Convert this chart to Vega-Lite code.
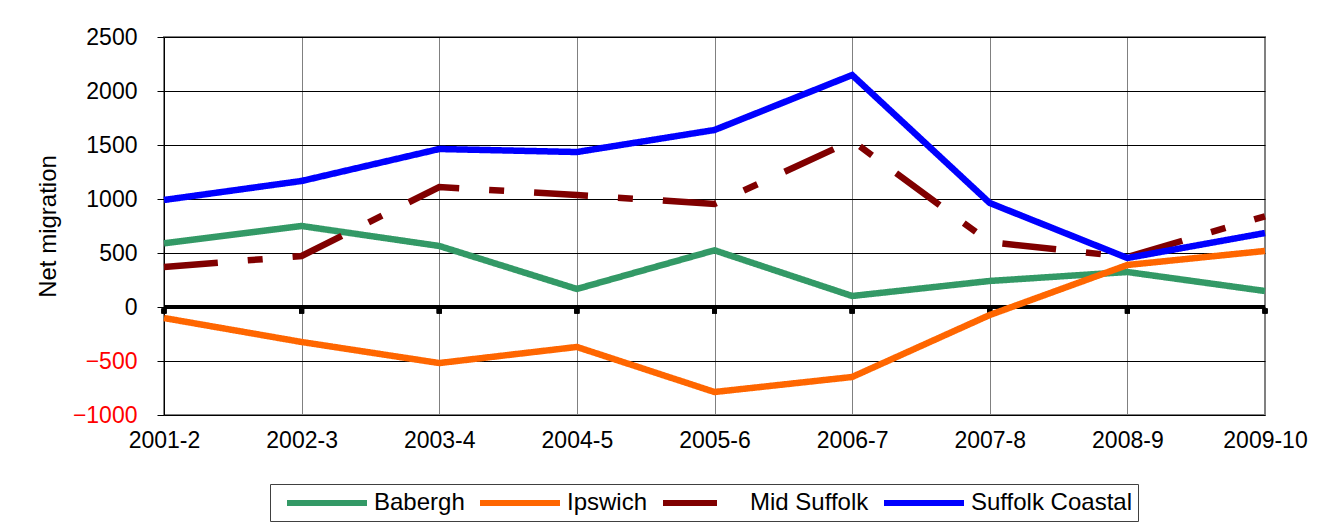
{
  "$schema": "https://vega.github.io/schema/vega-lite/v6.json",
  "width": 1101,
  "height": 378,
  "autosize": {"type": "none"},
  "padding": {"left": 164, "top": 37, "right": 57, "bottom": 111},
  "background": "white",
  "config": {"font": "Liberation Sans", "view": {"stroke": "#808080", "strokeWidth": 2}},
  "data": {"values": [
    {"period": "2001-2", "district": "Babergh", "net": 590},
    {"period": "2002-3", "district": "Babergh", "net": 750},
    {"period": "2003-4", "district": "Babergh", "net": 565},
    {"period": "2004-5", "district": "Babergh", "net": 167},
    {"period": "2005-6", "district": "Babergh", "net": 525},
    {"period": "2006-7", "district": "Babergh", "net": 102},
    {"period": "2007-8", "district": "Babergh", "net": 241},
    {"period": "2008-9", "district": "Babergh", "net": 324},
    {"period": "2009-10", "district": "Babergh", "net": 148},
    {"period": "2001-2", "district": "Ipswich", "net": -102},
    {"period": "2002-3", "district": "Ipswich", "net": -324},
    {"period": "2003-4", "district": "Ipswich", "net": -519},
    {"period": "2004-5", "district": "Ipswich", "net": -370},
    {"period": "2005-6", "district": "Ipswich", "net": -787},
    {"period": "2006-7", "district": "Ipswich", "net": -648},
    {"period": "2007-8", "district": "Ipswich", "net": -74},
    {"period": "2008-9", "district": "Ipswich", "net": 389},
    {"period": "2009-10", "district": "Ipswich", "net": 519},
    {"period": "2001-2", "district": "Mid Suffolk", "net": 370},
    {"period": "2002-3", "district": "Mid Suffolk", "net": 472},
    {"period": "2003-4", "district": "Mid Suffolk", "net": 1111},
    {"period": "2004-5", "district": "Mid Suffolk", "net": 1037},
    {"period": "2005-6", "district": "Mid Suffolk", "net": 954},
    {"period": "2006-7", "district": "Mid Suffolk", "net": 1540},
    {"period": "2007-8", "district": "Mid Suffolk", "net": 600},
    {"period": "2008-9", "district": "Mid Suffolk", "net": 463},
    {"period": "2009-10", "district": "Mid Suffolk", "net": 840},
    {"period": "2001-2", "district": "Suffolk Coastal", "net": 991},
    {"period": "2002-3", "district": "Suffolk Coastal", "net": 1167},
    {"period": "2003-4", "district": "Suffolk Coastal", "net": 1463},
    {"period": "2004-5", "district": "Suffolk Coastal", "net": 1435},
    {"period": "2005-6", "district": "Suffolk Coastal", "net": 1639},
    {"period": "2006-7", "district": "Suffolk Coastal", "net": 2148},
    {"period": "2007-8", "district": "Suffolk Coastal", "net": 963},
    {"period": "2008-9", "district": "Suffolk Coastal", "net": 454},
    {"period": "2009-10", "district": "Suffolk Coastal", "net": 685}
  ]},
  "encoding": {
    "x": {
      "field": "period", "type": "ordinal",
      "sort": ["2001-2", "2002-3", "2003-4", "2004-5", "2005-6", "2006-7", "2007-8", "2008-9", "2009-10"],
      "scale": {"type": "point", "padding": 0},
      "axis": {"title": null, "labelAngle": 0, "labelFontSize": 23, "labelColor": "black", "labelPadding": 14, "domain": false, "ticks": false, "grid": true, "gridColor": "#808080", "gridWidth": 1, "gridOpacity": 1, "labelOverlap": false}
    }
  },
  "layer": [
    {
      "mark": {"type": "rule", "color": "black", "strokeWidth": 4},
      "encoding": {"x": null, "y": {"datum": 0, "type": "quantitative", "scale": {"domain": [-1000, 2500], "nice": false}}}
    },
    {
      "mark": {"type": "point", "shape": "square", "filled": true, "color": "black", "size": 25, "opacity": 1, "yOffset": 4},
      "encoding": {"y": {"datum": 0, "type": "quantitative"}}
    },
    {
      "mark": {"type": "line", "strokeWidth": 6.5, "strokeCap": "butt", "strokeJoin": "miter"},
      "encoding": {
        "y": {
          "field": "net", "type": "quantitative",
          "scale": {"domain": [-1000, 2500], "nice": false},
          "axis": {"values": [-1000, -500, 0, 500, 1000, 1500, 2000, 2500], "format": "d", "title": "Net migration", "titleFontSize": 24, "titleFontWeight": "normal", "titleColor": "black", "titlePadding": 12, "labelFontSize": 23, "labelColor": {"condition": {"test": "datum.value < 0", "value": "#FF0000"}, "value": "black"}, "labelPadding": 20, "domainColor": "black", "domainWidth": 1, "tickColor": "black", "tickSize": 7, "grid": true, "gridColor": "black", "gridWidth": 1, "gridOpacity": 1}
        },
        "color": {
          "field": "district", "type": "nominal",
          "scale": {"domain": ["Babergh", "Ipswich", "Mid Suffolk", "Suffolk Coastal"], "range": ["#339966", "#FF6600", "#800000", "#0000FF"]},
          "legend": {"title": null, "orient": "none", "legendX": 106, "legendY": 447, "direction": "horizontal", "symbolType": "M-4,0H4", "symbolSize": 400, "symbolStrokeWidth": 6, "labelFontSize": 24, "labelColor": "black", "labelOffset": 34, "labelLimit": 400, "columnPadding": 3, "padding": 6, "symbolOffset": 38, "strokeColor": "#404040", "fillColor": "white"}
        },
        "strokeDash": {
          "field": "district", "type": "nominal",
          "scale": {"domain": ["Babergh", "Ipswich", "Mid Suffolk", "Suffolk Coastal"], "range": [[1, 0], [1, 0], [54, 30, 15, 30], [1, 0]]},
          "legend": {"title": null, "orient": "none", "legendX": 106, "legendY": 447, "direction": "horizontal", "symbolType": "M-4,0H4", "symbolSize": 400, "symbolStrokeWidth": 6, "labelFontSize": 24, "labelColor": "black", "labelOffset": 34, "labelLimit": 400, "columnPadding": 3, "padding": 6, "symbolOffset": 38, "strokeColor": "#404040", "fillColor": "white"}
        }
      }
    }
  ]
}
